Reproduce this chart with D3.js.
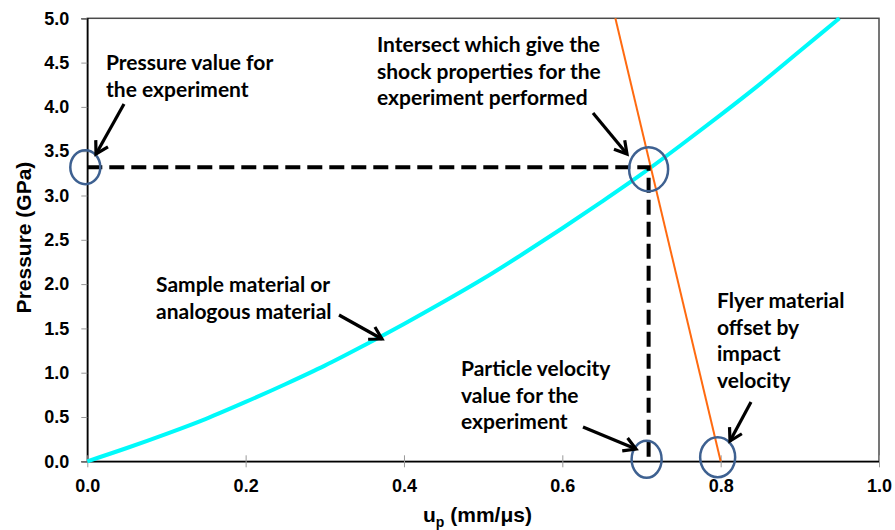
<!DOCTYPE html>
<html>
<head>
<meta charset="utf-8">
<script src="https://cdn.jsdelivr.net/npm/d3@7"></script>
<style>
  html, body { margin: 0; padding: 0; background: #fff; }
  svg { display: block; }
</style>
</head>
<body>
<svg id="chart" width="895" height="530"></svg>
<script>
// Sample-material Hugoniot in the P–up plane
const sampleUp = [0, 0.05, 0.10, 0.15, 0.20, 0.25, 0.30, 0.35, 0.40, 0.45, 0.50, 0.55, 0.60, 0.65, 0.70, 0.75, 0.80, 0.85, 0.90, 0.95];
const sampleP  = [0, 0.15, 0.31, 0.48, 0.67, 0.87, 1.08, 1.31, 1.55, 1.80, 2.06, 2.34, 2.63, 2.93, 3.24, 3.57, 3.91, 4.26, 4.63, 5.00];

// Flyer Hugoniot, reflected and offset by the impact velocity
const flyerUp = [0.667, 0.800];
const flyerP  = [5.0, 0.0];

// Intersection of the two curves (experiment state)
const stateUp = 0.709;
const stateP  = 3.32;

const xTicks = [0, 0.2, 0.4, 0.6, 0.8, 1.0];
const yTicks = [0, 0.5, 1.0, 1.5, 2.0, 2.5, 3.0, 3.5, 4.0, 4.5, 5.0];

(function draw() {
  const svg = d3.select("#chart");
  const plotL = 87.3, plotR = 879, plotT = 18.3, plotB = 461.3;

  const x = d3.scaleLinear().domain([0, 1]).range([plotL, plotR]);
  const y = d3.scaleLinear().domain([0, 5]).range([plotB, plotT]);

  const tickFont = "'Liberation Sans', Arial, sans-serif";
  const noteFont = "Lato, 'Open Sans', sans-serif";

  // Frame
  svg.append("rect")
    .attr("x", plotL).attr("y", plotT)
    .attr("width", plotR - plotL).attr("height", plotB - plotT)
    .attr("fill", "none").attr("stroke", "#4a4a4a").attr("stroke-width", 1.5);

  // Y axis
  const yAxis = svg.append("g")
    .attr("transform", `translate(${plotL},0)`)
    .call(d3.axisLeft(y).tickValues(yTicks).tickFormat(d3.format(".1f")).tickSize(6).tickPadding(12));
  yAxis.select(".domain").attr("stroke", "#000").attr("stroke-width", 1.5);
  yAxis.selectAll(".tick line").attr("stroke", "#999");
  yAxis.selectAll(".tick text")
    .attr("font-family", tickFont).attr("font-weight", "bold")
    .attr("font-size", 18).attr("fill", "#000");

  // X axis (ticks cross the axis line)
  const xAxis = svg.append("g")
    .attr("transform", `translate(0,${plotB})`)
    .call(d3.axisBottom(x).tickValues(xTicks).tickFormat(d3.format(".1f")).tickSizeInner(6).tickSizeOuter(0).tickPadding(12));
  xAxis.select(".domain").attr("stroke", "#000").attr("stroke-width", 1.5);
  xAxis.selectAll(".tick line").attr("stroke", "#999").attr("y1", -6).attr("y2", 6);
  xAxis.selectAll(".tick text")
    .attr("font-family", tickFont).attr("font-weight", "bold")
    .attr("font-size", 18).attr("fill", "#000");

  // Axis titles
  const xTitle = svg.append("text")
    .attr("x", 423).attr("y", 522)
    .attr("font-family", tickFont).attr("font-weight", "bold")
    .attr("font-size", 21).attr("fill", "#000");
  xTitle.append("tspan").text("u");
  xTitle.append("tspan").attr("font-size", 14).attr("dy", 5).text("p");
  xTitle.append("tspan").attr("dy", -5).text(" (mm/μs)");

  svg.append("text")
    .attr("transform", "translate(31,237.5) rotate(-90)")
    .attr("text-anchor", "middle")
    .attr("font-family", tickFont).attr("font-weight", "bold")
    .attr("font-size", 21).attr("fill", "#000")
    .text("Pressure (GPa)");

  // Curves
  const curveLine = d3.line().x(d => x(d[0])).y(d => y(d[1]));
  svg.append("path")
    .datum(sampleUp.map((u, i) => [u, sampleP[i]]))
    .attr("d", curveLine.curve(d3.curveMonotoneX))
    .attr("fill", "none").attr("stroke", "#00FAFA").attr("stroke-width", 4);

  const straight = d3.line().x(d => x(d[0])).y(d => y(d[1]));
  svg.append("path")
    .datum(flyerUp.map((u, i) => [u, flyerP[i]]))
    .attr("d", straight)
    .attr("fill", "none").attr("stroke", "#FF6A10").attr("stroke-width", 2);

  // Dashed guides from the intersection to both axes
  svg.append("path")
    .attr("d", `M${x(0)},${y(stateP)} H${x(stateUp)} V${y(0)}`)
    .attr("fill", "none").attr("stroke", "#000").attr("stroke-width", 4)
    .attr("stroke-dasharray", "15,7");

  // Highlight ellipses
  const ellipses = [
    { u: 0,       p: stateP, dx: -2, dy: 0,  rx: 15,   ry: 17 },
    { u: stateUp, p: stateP, dx: 0,  dy: 2,  rx: 19.5, ry: 22 },
    { u: stateUp, p: 0,      dx: -2, dy: -2, rx: 15,   ry: 18.5 },
    { u: 0.8,     p: 0,      dx: -3, dy: -4, rx: 17.5, ry: 20 }
  ];
  svg.selectAll("ellipse.mark")
    .data(ellipses).join("ellipse")
    .attr("class", "mark")
    .attr("cx", d => x(d.u) + d.dx).attr("cy", d => y(d.p) + d.dy)
    .attr("rx", d => d.rx).attr("ry", d => d.ry)
    .attr("fill", "none").attr("stroke", "#3E6191").attr("stroke-width", 2.5);

  // Arrow marker
  svg.append("defs").append("marker")
    .attr("id", "arrowhead")
    .attr("viewBox", "0 0 18 18")
    .attr("refX", 14).attr("refY", 9)
    .attr("markerWidth", 18).attr("markerHeight", 18)
    .attr("markerUnits", "userSpaceOnUse")
    .attr("orient", "auto")
    .append("path")
    .attr("d", "M2,2 L14,9 L2,16")
    .attr("fill", "none").attr("stroke", "#000").attr("stroke-width", 3.2)
    .attr("stroke-linejoin", "miter");

  // Annotation arrows
  const arrows = [
    [124, 104, 96, 154],
    [593, 113, 627, 154],
    [339, 315, 382, 339],
    [583, 427, 636, 449],
    [751, 402, 730, 441]
  ];
  svg.selectAll("line.arrow")
    .data(arrows).join("line")
    .attr("class", "arrow")
    .attr("x1", d => d[0]).attr("y1", d => d[1])
    .attr("x2", d => d[2]).attr("y2", d => d[3])
    .attr("stroke", "#000").attr("stroke-width", 3.2)
    .attr("marker-end", "url(#arrowhead)");

  // Annotation text blocks
  const notes = [
    { x: 106, y: 70,  lines: ["Pressure value for", "the experiment"] },
    { x: 377, y: 52,  lines: ["Intersect which give the", "shock properties for the", "experiment performed"] },
    { x: 156, y: 292, lines: ["Sample material or", "analogous material"] },
    { x: 461, y: 376, lines: ["Particle velocity", "value for the", "experiment"] },
    { x: 717, y: 308, lines: ["Flyer material", "offset by", "impact", "velocity"] }
  ];
  notes.forEach(n => {
    const t = svg.append("text")
      .attr("x", n.x).attr("y", n.y)
      .attr("font-family", noteFont).attr("font-weight", "bold")
      .attr("font-size", 21).attr("fill", "#000");
    n.lines.forEach((s, i) => {
      t.append("tspan").attr("x", n.x).attr("dy", i === 0 ? 0 : 26.7).text(s);
    });
  });
})();
</script>
</body>
</html>
